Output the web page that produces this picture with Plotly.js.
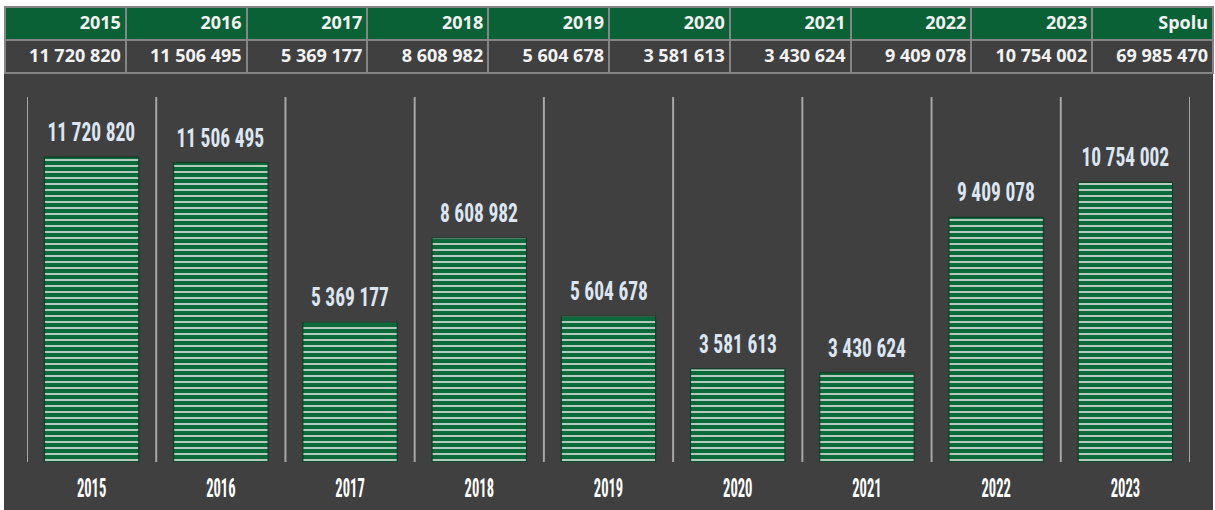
<!DOCTYPE html>
<html>
<head>
<meta charset="utf-8">
<script src="https://cdn.plot.ly/plotly-3.0.1.min.js"></script>
<style>
  html, body { margin: 0; padding: 0; background: #ffffff; }
  #panel { position: absolute; left: 4px; top: 74px; width: 1209px; height: 436px; background: #404040; }
  #chart { position: absolute; left: 0; top: 0; width: 1215px; height: 510px; }
</style>
</head>
<body>
<div id="panel"></div>
<div id="chart"></div>
<script>
// ---- data ----
const years = ['2015', '2016', '2017', '2018', '2019', '2020', '2021', '2022', '2023'];
const values = [11720820, 11506495, 5369177, 8608982, 5604678, 3581613, 3430624, 9409078, 10754002];
const totalLabel = 'Spolu';
const totalValue = 69985470;

// ---- helpers ----
const fmt = v => String(v).replace(/\B(?=(\d{3})+(?!\d))/g, ' ');
const W = 1215, H = 510;
const narrow = 'Roboto Condensed, DejaVu Sans Condensed, Liberation Sans Narrow, Roboto, sans-serif';
const tableFont = 'Open Sans, Noto Sans, sans-serif';

const headerVals = years.concat([totalLabel]);
const cellVals = values.map(fmt).concat([fmt(totalValue)]).map(v => [v]);

const table = {
  type: 'table',
  domain: { x: [5 / W, 1213 / W], y: [(H - 74) / H, (H - 7) / H] },
  columnwidth: headerVals.map(() => 1),
  header: {
    values: headerVals,
    align: 'right',
    height: 33,
    fill: { color: '#0a6136' },
    line: { color: '#858585', width: 2 },
    font: { family: tableFont, size: 18, color: '#f2f2f2', weight: 700 }
  },
  cells: {
    values: cellVals,
    align: 'right',
    height: 33,
    fill: { color: '#404040' },
    line: { color: '#858585', width: 2 },
    font: { family: tableFont, size: 18, color: '#f2f2f2', weight: 700 }
  },
  hoverinfo: 'skip'
};

const bars = {
  type: 'bar',
  x: years,
  y: values,
  hoverinfo: 'skip',
  marker: {
    color: '#0a6a3a',
    line: { color: '#0a3a22', width: 1 },
    pattern: { shape: '-', size: 6, solidity: 0.28, fgcolor: '#d4dcd4', bgcolor: '#0a6a3a', fillmode: 'replace' }
  }
};

const annotations = years.map((yr, i) => ({
  x: i, y: values[i], xref: 'x', yref: 'y',
  text: fmt(values[i]), showarrow: false,
  xanchor: 'center', yanchor: 'bottom', yshift: 8,
  font: { family: narrow, size: 25, color: '#dce6f2', weight: 700 }
}));

// vertical separators at the category boundaries (including both outer edges)
const shapes = years.concat(['']).map((_, i) => ({
  type: 'line', xref: 'x', yref: 'y domain',
  x0: i - 0.5, x1: i - 0.5, y0: 0, y1: 1,
  line: { color: '#a6a6a6', width: 2 }, layer: 'below'
}));

const layout = {
  width: W, height: H,
  margin: { l: 0, r: 0, t: 0, b: 0 },
  paper_bgcolor: 'rgba(0,0,0,0)',
  plot_bgcolor: 'rgba(0,0,0,0)',
  showlegend: false,
  bargap: 0.27,
  xaxis: {
    type: 'category',
    domain: [27 / W, 1190 / W],
    range: [-0.5, 8.5],
    showgrid: false,
    ticks: '', showline: false, zeroline: false,
    ticklabelstandoff: 8,
    tickfont: { family: narrow, size: 26, color: '#ffffff', weight: 700 },
    fixedrange: true
  },
  yaxis: {
    domain: [48 / H, 413 / H],
    range: [0, 14030000],
    showgrid: false, zeroline: false, showline: false,
    showticklabels: false, ticks: '',
    fixedrange: true
  },
  shapes: shapes,
  annotations: annotations
};

Plotly.newPlot('chart', [bars, table], layout, { displayModeBar: false, staticPlot: true }).then(gd => {
  // emulate the narrow display face of the original by condensing the glyphs
  const condense = (sel, factor) => {
    gd.querySelectorAll(sel).forEach(t => {
      const len = t.getComputedTextLength();
      if (len > 0) {
        t.setAttribute('textLength', (len * factor).toFixed(1));
        t.setAttribute('lengthAdjust', 'spacingAndGlyphs');
      }
    });
  };
  condense('.annotation-text', 0.78);
  condense('.xtick text', 0.56);
  // the original's table text sits closer to the right cell border
  gd.querySelectorAll('.cell-text').forEach(t => t.setAttribute('dx', '3'));
});
</script>
</body>
</html>
